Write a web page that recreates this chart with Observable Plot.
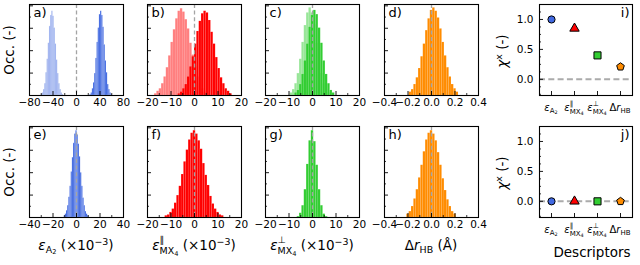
<!DOCTYPE html>
<html><head><meta charset="utf-8">
<script src="https://cdn.jsdelivr.net/npm/d3@7"></script>
<script src="https://cdn.jsdelivr.net/npm/@observablehq/plot@0.6"></script>
<style>
html,body{margin:0;padding:0;background:#fff;}
#fig{position:relative;width:640px;height:265px;overflow:hidden;font-family:"DejaVu Sans",sans-serif;color:#000;}
.pan{position:absolute;}
.lbl{position:absolute;white-space:nowrap;transform:translate(-50%,-50%);font-size:13.5px;line-height:1;}
.rot{transform:translate(-50%,-50%) rotate(-90deg);}
.lbl sub{font-size:70%;position:relative;top:0.28em;vertical-align:baseline;}
.lbl sup{font-size:70%;position:relative;top:-0.5em;vertical-align:baseline;}
.ss{display:inline-block;position:relative;font-size:70%;}
.ss .sb{position:relative;top:0.4em;}
.ss .sp{position:absolute;left:0;top:-0.75em;}
.dl{font-size:10px;}
</style></head><body><div id="fig"></div>
<script>
// ---------- data (bins: [first edge, bin width]; counts: occurrences, arbitrary units) ----------
const aLightBins = [-60, 2];
const aLightCounts = [1, 3, 7, 14, 27, 43, 62, 82, 95, 100, 94, 80, 61, 42, 26, 14, 7, 3, 1];
const aDarkBins = [23, 2];
const aDarkCounts = [1, 3, 8, 15, 26, 44, 63, 80, 96, 100, 95, 81, 60, 41, 27, 13, 7, 3, 1];
const bLightBins = [-17, 1];
const bLightCounts = [2, 5, 8, 14, 22, 33, 47, 63, 78, 91, 100, 103, 99, 90, 79, 62, 48, 34, 22, 14, 8, 4, 2];
const bDarkBins = [-7, 1];
const bDarkCounts = [2, 4, 8, 13, 22, 34, 46, 61, 76, 88, 97, 100, 98, 89, 75, 61, 45, 32, 21, 14, 8, 5, 2];
const cLightBins = [-9.5, 1];
const cLightCounts = [3, 7, 14, 26, 43, 63, 83, 98, 104, 98, 84, 62, 42, 26, 14, 7, 3];
const cDarkBins = [-7.5, 1];
const cDarkCounts = [3, 6, 13, 25, 41, 61, 81, 95, 101, 96, 80, 62, 41, 25, 14, 6, 3];
const dBins = [-0.19, 0.02];
const dCounts = [4, 7, 13, 21, 32, 46, 61, 77, 91, 101, 104, 100, 92, 79, 63, 47, 33, 22, 13, 8, 4];
const eBins = [-10.5, 1];
const eCounts = [2, 4, 8, 14, 24, 37, 54, 71, 88, 99, 103, 98, 87, 72, 53, 37, 23, 14, 7, 4, 2];
const fBins = [-12.5, 1];
const fCounts = [2, 3, 6, 10, 17, 26, 37, 51, 66, 80, 92, 100, 103, 99, 91, 81, 64, 50, 38, 25, 16, 10, 6, 3, 2];
const gBins = [-6.5, 1];
const gCounts = [1, 5, 14, 33, 63, 91, 103, 90, 62, 33, 14, 4, 1];
const hBins = [-0.21, 0.02];
const hCounts = [4, 7, 13, 22, 33, 47, 62, 78, 92, 100, 103, 99, 91, 77, 62, 46, 32, 21, 13, 7, 4];

const descriptors = ["eA2", "eParMX4", "ePerpMX4", "drHB"];
const chiRow1 = [1.0, 0.85, 0.40, 0.21];
const chiRow2 = [0.0, 0.0, 0.0, 0.0];
const descriptorLabels = [
  '<i>ε</i><sub>A<sub>2</sub></sub>',
  '<i>ε</i><span class="ss"><span class="sp">∥</span><span class="sb">MX<sub>4</sub></span></span>',
  '<i>ε</i><span class="ss"><span class="sp">⊥</span><span class="sb">MX<sub>4</sub></span></span>',
  'Δ<i>r</i><sub>HB</sub>'
];
const xAxisLabels = [
  '<i>ε</i><sub>A<sub>2</sub></sub> (×10<sup>−3</sup>)',
  '<i>ε</i><span class="ss"><span class="sp">∥</span><span class="sb">MX<sub>4</sub></span></span> (×10<sup>−3</sup>)',
  '<i>ε</i><span class="ss"><span class="sp">⊥</span><span class="sb">MX<sub>4</sub></span></span> (×10<sup>−3</sup>)',
  'Δ<i>r</i><sub>HB</sub> (Å)'
];
const occLabel = "Occ. (-)";
const chiLabel = '<i>χ</i><sup>x</sup> (-)';
const descLabel = "Descriptors";
const rowLetters = [["a)", "b)", "c)", "d)", "i)"], ["e)", "f)", "g)", "h)", "j)"]];

// ---------- layout ----------
const W = 94, H = 91, WI = 93;
const colLeft = [29, 147, 265, 384];
const rowTop = [4, 126];
const iLeft = 539;
const fig = document.getElementById("fig");
const font = "DejaVu Sans, sans-serif";
const blue = "royalblue", red = "#ff0000", green = "limegreen", orange = "darkorange";

const pentagon = {
  draw(ctx, size) {
    const R = Math.sqrt(size / (2.5 * Math.sin(2 * Math.PI / 5)));
    for (let i = 0; i < 5; i++) {
      const a = -Math.PI / 2 + i * 2 * Math.PI / 5;
      const x = R * Math.cos(a), y = R * Math.sin(a);
      if (i) ctx.lineTo(x, y); else ctx.moveTo(x, y);
    }
    ctx.closePath();
  }
};

function place(node, left, top) {
  const d = document.createElement("div");
  d.className = "pan";
  d.style.left = left + "px";
  d.style.top = top + "px";
  d.appendChild(node);
  fig.appendChild(d);
}
function label(html, x, y, cls = "") {
  const d = document.createElement("div");
  d.className = "lbl " + cls;
  d.style.left = x + "px";
  d.style.top = y + "px";
  d.innerHTML = html;
  fig.appendChild(d);
}

const fmtInt = d3.format("d"), fmt1 = d3.format(".1f");
const histPanels = [
  {row: 0, col: 0, domain: [-80, 80], major: [-80, -40, 0, 40, 80], minor: [-60, -20, 20, 60], fmt: fmtInt,
   series: [[aLightBins, aLightCounts, blue, 0.5], [aDarkBins, aDarkCounts, blue, 1]]},
  {row: 0, col: 1, domain: [-20, 20], major: [-20, -10, 0, 10, 20], minor: [-15, -5, 5, 15], fmt: fmtInt,
   series: [[bLightBins, bLightCounts, red, 0.5], [bDarkBins, bDarkCounts, red, 1]]},
  {row: 0, col: 2, domain: [-20, 20], major: [-20, -10, 0, 10, 20], minor: [-15, -5, 5, 15], fmt: fmtInt,
   series: [[cLightBins, cLightCounts, green, 0.5], [cDarkBins, cDarkCounts, green, 1]]},
  {row: 0, col: 3, domain: [-0.4, 0.4], major: [-0.4, -0.2, 0, 0.2, 0.4], minor: [-0.3, -0.1, 0.1, 0.3], fmt: fmt1,
   series: [[dBins, dCounts, orange, 1]]},
  {row: 1, col: 0, domain: [-40, 40], major: [-40, -20, 0, 20, 40], minor: [-30, -10, 10, 30], fmt: fmtInt,
   series: [[eBins, eCounts, blue, 1]]},
  {row: 1, col: 1, domain: [-20, 20], major: [-20, -10, 0, 10, 20], minor: [-15, -5, 5, 15], fmt: fmtInt,
   series: [[fBins, fCounts, red, 1]]},
  {row: 1, col: 2, domain: [-20, 20], major: [-20, -10, 0, 10, 20], minor: [-15, -5, 5, 15], fmt: fmtInt,
   series: [[gBins, gCounts, green, 1]]},
  {row: 1, col: 3, domain: [-0.4, 0.4], major: [-0.4, -0.2, 0, 0.2, 0.4], minor: [-0.3, -0.1, 0.1, 0.3], fmt: fmt1,
   series: [[hBins, hCounts, orange, 1]]}
];

const style = {fontFamily: font, fontSize: "10px", background: "transparent", overflow: "visible", color: "black"};

function histPlot(p) {
  const yTicks = d3.range(0, 108, 13.3);
  const marks = [];
  for (const [bins, counts, color, op] of p.series) {
    const data = counts.map((c, i) => ({x1: bins[0] + i * bins[1], x2: bins[0] + (i + 1) * bins[1], n: c}));
    marks.push(Plot.rect(data, {x1: "x1", x2: "x2", y1: 0, y2: "n", fill: color, fillOpacity: op,
      stroke: "white", strokeOpacity: 0.18, strokeWidth: 0.4}));
  }
  marks.push(
    Plot.ruleX([0], {stroke: "#a4a4a4", strokeWidth: 1.3, strokeDasharray: "4,2.6"}),
    Plot.tickX(p.major, {x: d => d, insetTop: H - 4, stroke: "black", strokeWidth: 0.9}),
    Plot.tickX(p.minor, {x: d => d, insetTop: H - 2, stroke: "black", strokeWidth: 0.8}),
    Plot.tickY(yTicks.filter((d, i) => i % 2 === 0 && i > 0), {y: d => d, insetRight: W - 4, stroke: "black", strokeWidth: 0.9}),
    Plot.tickY(yTicks.filter((d, i) => i % 2 === 1), {y: d => d, insetRight: W - 2, stroke: "black", strokeWidth: 0.8}),
    Plot.axisX({ticks: p.major, tickSize: 0, tickPadding: 3, tickFormat: p.fmt, fontSize: 10.5, label: null}),
    Plot.text([rowLetters[p.row][p.col]], {frameAnchor: "top-left", dx: 4, dy: 3, lineAnchor: "top", textAnchor: "start", fontSize: 13}),
    Plot.frame({stroke: "black", strokeWidth: 1.1})
  );
  return Plot.plot({
    width: W + 2, height: H + 2 + 22,
    marginLeft: 1, marginRight: 1, marginTop: 1, marginBottom: 23,
    x: {domain: p.domain},
    y: {domain: [0, 108], axis: null},
    style, marks
  });
}

for (const p of histPanels) {
  place(histPlot(p), colLeft[p.col] - 1, rowTop[p.row] - 1);
}

const markerColors = [blue, red, green, orange];
const markerSymbols = ["circle", "triangle", "square", pentagon];
const markerR = [3.6, 3.5, 4.0, 3.5];

function chiPlot(values, row) {
  const ML = 32;
  const marks = [
    Plot.ruleY([0], {stroke: "#ababab", strokeWidth: 2, strokeDasharray: "6,3.3"}),
    Plot.tickY(d3.range(-0.25, 1.26, 0.125).filter(v => Math.abs(v * 2 - Math.round(v * 2)) > 1e-6), {y: d => d, insetRight: WI - 2, stroke: "black", strokeWidth: 0.8}),
    Plot.tickY([0, 0.5, 1], {y: d => d, insetRight: WI - 4, stroke: "black", strokeWidth: 0.9}),
    Plot.tickX(descriptors, {x: d => d, insetTop: H - 4, stroke: "black", strokeWidth: 0.9}),
    Plot.axisY({ticks: [0, 0.5, 1], tickSize: 0, tickPadding: 6, tickFormat: fmt1, fontSize: 10.5, label: null})
  ];
  descriptors.forEach((d, k) => {
    marks.push(Plot.dot([{d, v: values[k]}], {x: "d", y: "v", symbol: markerSymbols[k], r: markerR[k],
      fill: markerColors[k], stroke: "black", strokeWidth: 1}));
  });
  marks.push(
    Plot.text([rowLetters[row][4]], {frameAnchor: "top-right", dx: -3, dy: 3, lineAnchor: "top", textAnchor: "end", fontSize: 13}),
    Plot.frame({stroke: "black", strokeWidth: 1.1})
  );
  const plot = Plot.plot({
    width: WI + ML + 1, height: H + 2,
    marginLeft: ML, marginRight: 1, marginTop: 1, marginBottom: 1,
    x: {type: "point", domain: descriptors, padding: 0.5, axis: null},
    y: {domain: [-0.27, 1.25], axis: null},
    style, marks
  });
  const left = iLeft - ML, top = rowTop[row] - 1;
  place(plot, left, top);
  const xs = plot.scale("x");
  descriptors.forEach((d, k) => {
    label(descriptorLabels[k], left + xs.apply(d), row === 0 ? 108 : 230, "dl");
  });
}
chiPlot(chiRow1, 0);
chiPlot(chiRow2, 1);

// axis titles
for (let r = 0; r < 2; r++) {
  label(occLabel, 10, rowTop[r] + H / 2, "rot");
  label(chiLabel, 503, rowTop[r] + H / 2 + 1, "rot");
}
colLeft.forEach((x, c) => label(xAxisLabels[c], x + W / 2, 246));
label(descLabel, 592, 253);
</script>
</body></html>
